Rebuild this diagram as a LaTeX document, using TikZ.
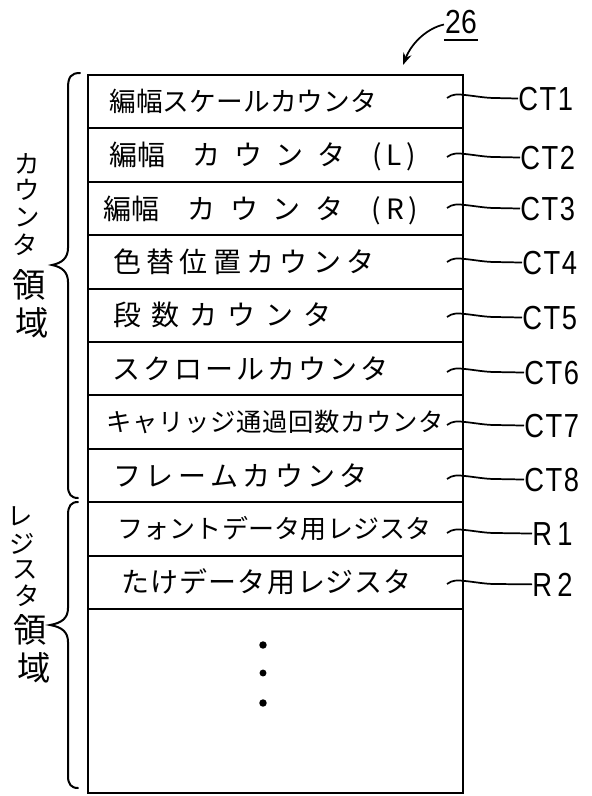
\documentclass[tikz,border=0pt]{standalone}
\usepackage{fontspec}
\setmainfont{Liberation Sans}
\newfontfamily\jp{Noto Sans CJK JP}
\usetikzlibrary{arrows.meta,calc}
\def\Hf{\hfill}
\begin{document}
\begin{tikzpicture}[x=0.75pt,y=-0.75pt,
  boxline/.style={line width=2.1pt},
  sepline/.style={line width=1.6pt},
  rowtxt/.style={anchor=base west,inner sep=0pt,font=\jp\fontsize{21}{21}\selectfont},
  rowsize/.style={font=\jp\fontsize{#1}{#1}\selectfont},
  reflabel/.style={anchor=base west,inner sep=0pt,font=\fontsize{25}{25}\selectfont},
  leader/.style={line width=1.3pt},
  bracestyle/.style={line width=1.5pt,line cap=round},
  sidechar/.style={inner sep=0pt,font=\jp\fontsize{19}{19}\selectfont},
  sidekanji/.style={inner sep=0pt,font=\jp\fontsize{25}{25}\selectfont},
]
\useasboundingbox (0,0) rectangle (592,796);

% memory box
\draw[boxline] (88,75) rectangle (463,793);
\foreach \y in {128.4,181.8,235.2,288.6,342,395.4,448.8,502.2,555.6,609}
  \draw[sepline] (88,\y) -- (463,\y);

% row texts
\node[rowtxt,rowsize=20] (row1) at (109,111.8) {\makebox[201pt][s]{編\Hf 幅\Hf ス\Hf ケ\Hf ー\Hf ル\Hf カ\Hf ウ\Hf ン\Hf タ}};
\node[rowtxt] (row2) at (109,165.7) {\makebox[230pt][s]{編幅\Hf\Hf カ\Hf ウ\Hf ン\Hf タ\Hf\Hf (\,L\,)}};
\node[rowtxt] (row3) at (103,219.1) {\makebox[236pt][s]{編幅\Hf\Hf カ\Hf ウ\Hf ン\Hf タ\Hf\Hf (\,R\,)}};
\node[rowtxt] (row4) at (113,272.5) {\makebox[196pt][s]{色\Hf 替\Hf 位\Hf 置\Hf カ\Hf ウ\Hf ン\Hf タ}};
\node[rowtxt] (row5) at (113,325.9) {\makebox[164pt][s]{段\Hf 数\Hf カ\Hf ウ\Hf ン\Hf タ}};
\node[rowtxt] (row6) at (112,379.3) {\makebox[207pt][s]{ス\Hf ク\Hf ロ\Hf ー\Hf ル\Hf カ\Hf ウ\Hf ン\Hf タ}};
\node[rowtxt,rowsize=19] (row7) at (106,431.7) {\makebox[253pt][s]{キ\Hf ャ\Hf リ\Hf ッ\Hf ジ\Hf 通\Hf 過\Hf 回\Hf 数\Hf カ\Hf ウ\Hf ン\Hf タ}};
\node[rowtxt] (row8) at (113,486.1) {\makebox[191pt][s]{フ\Hf レ\Hf ー\Hf ム\Hf カ\Hf ウ\Hf ン\Hf タ}};
\node[rowtxt,rowsize=19.5] (row9) at (117,538.8) {\makebox[236pt][s]{フ\Hf ォ\Hf ン\Hf ト\Hf デ\Hf ー\Hf タ\Hf 用\Hf レ\Hf ジ\Hf ス\Hf タ}};
\node[rowtxt] (row10) at (121,592.9) {\makebox[218pt][s]{た\Hf け\Hf デ\Hf ー\Hf タ\Hf\Hf 用\Hf\Hf レ\Hf ジ\Hf ス\Hf タ}};

% continuation dots
\fill (263,645) circle (2.8pt);
\fill (263,673) circle (2.6pt);
\fill (263,703) circle (2.8pt);

% reference labels and leaders
\foreach \i/\yc/\xl/\lab in {1/98/518/{C\kern1.5pt T\kern1.5pt 1},
    2/157/520/{C\kern1.5pt T\kern1.5pt 2},
    3/208/520/{C\kern1.5pt T\kern1.5pt 3},
    4/262/522/{C\kern1.5pt T\kern1.5pt 4},
    5/317/522/{C\kern1.5pt T\kern1.5pt 5},
    6/372/524/{C\kern1.5pt T\kern1.5pt 6},
    7/425/524/{C\kern1.5pt T\kern1.5pt 7},
    8/479/524/{C\kern1.5pt T\kern1.5pt 8},
    9/533/532/{R\kern5pt 1},
    10/584/532/{R\kern5pt 2}} {
  \node[reflabel] (lab\i) at (\xl,{\yc+12}) {\scalebox{0.82}[1]{\lab}};
  \coordinate (ls\i) at (447,\yc);
  \draw[leader] (ls\i) .. controls (452,{\yc-4}) and (458,{\yc-4}) .. (465,{\yc-3})
     .. controls (475,{\yc-2}) and (485,\yc) .. (495,\yc) -- (lab\i.west);
}

% reference numeral 26
\node[reflabel,anchor=base] (n26) at (461,33) {\scalebox{0.85}[1]{26}};
\draw[line width=1.4pt] ($(n26.south west)+(-1,6)$) -- ($(n26.south east)+(1,6)$);
\coordinate (a26e) at (403,65);
\draw[line width=1.3pt,-{Stealth[length=9pt,width=6.5pt]}] ($(n26.west)+(-1,3)$)
   .. controls (428,28) and (412,42) .. (a26e);

% braces
\draw[bracestyle] (80,73) .. controls (71,73) and (68,77) .. (68,88) -- (68,248)
   .. controls (68,258) and (62,263) .. (52,265)
   .. controls (62,267) and (68,272) .. (68,282) -- (68,486)
   .. controls (68,494) and (71,498) .. (78,498);
\draw[bracestyle] (78,502) .. controls (71,502) and (68,506) .. (68,515) -- (68,608)
   .. controls (68,618) and (62,623) .. (50,625)
   .. controls (62,627) and (68,632) .. (68,642) -- (68,776)
   .. controls (68,784) and (71,788) .. (78,788);

% side labels
\foreach \c/\x/\y [count=\i] in {カ/27/164, ウ/27/190, ン/27/217, タ/25/245}
  \node[sidechar] (cnt\i) at (\x,\y) {\c};
\node[sidekanji] (cnt5) at (29,285) {領};
\node[sidekanji] (cnt6) at (32,323) {域};
\foreach \c/\x/\y [count=\i] in {レ/20/516, ジ/22/544, ス/25/570, タ/27/596}
  \node[sidechar] (reg\i) at (\x,\y) {\c};
\node[sidekanji] (reg5) at (30,630) {領};
\node[sidekanji] (reg6) at (34,668) {域};
\end{tikzpicture}
\end{document}
